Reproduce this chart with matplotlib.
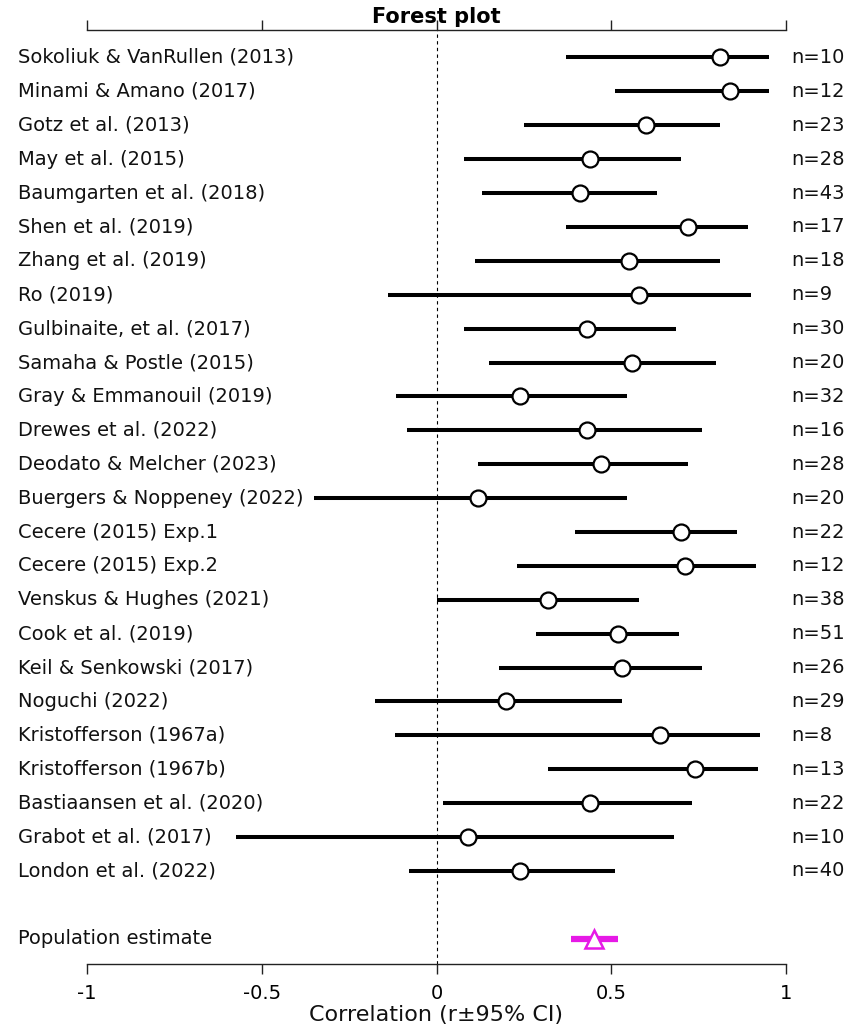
import numpy as np
import matplotlib
matplotlib.use("Agg")
import matplotlib.pyplot as plt
from matplotlib.transforms import blended_transform_factory

# study-level correlations with 95% CIs
studies = ["Sokoliuk & VanRullen (2013)", "Minami & Amano (2017)", "Gotz et al. (2013)",
           "May et al. (2015)", "Baumgarten et al. (2018)", "Shen et al. (2019)",
           "Zhang et al. (2019)", "Ro (2019)", "Gulbinaite, et al. (2017)",
           "Samaha & Postle (2015)", "Gray & Emmanouil (2019)", "Drewes et al. (2022)",
           "Deodato & Melcher (2023)", "Buergers & Noppeney (2022)", "Cecere (2015) Exp.1",
           "Cecere (2015) Exp.2", "Venskus & Hughes (2021)", "Cook et al. (2019)",
           "Keil & Senkowski (2017)", "Noguchi (2022)", "Kristofferson (1967a)",
           "Kristofferson (1967b)", "Bastiaansen et al. (2020)", "Grabot et al. (2017)",
           "London et al. (2022)"]
r = [0.81, 0.84, 0.60, 0.44, 0.41, 0.72, 0.55, 0.58, 0.43, 0.56, 0.24, 0.43, 0.47,
     0.12, 0.70, 0.71, 0.32, 0.52, 0.53, 0.20, 0.64, 0.74, 0.44, 0.09, 0.24]
ci_lo = [0.37, 0.51, 0.25, 0.08, 0.13, 0.37, 0.11, -0.14, 0.08, 0.15, -0.115, -0.085,
         0.12, -0.35, 0.395, 0.23, 0.00, 0.285, 0.18, -0.175, -0.12, 0.32, 0.02, -0.575, -0.08]
ci_hi = [0.95, 0.95, 0.81, 0.70, 0.63, 0.89, 0.81, 0.90, 0.685, 0.80, 0.545, 0.76,
         0.72, 0.545, 0.86, 0.915, 0.58, 0.695, 0.76, 0.53, 0.925, 0.92, 0.73, 0.68, 0.51]
n = [10, 12, 23, 28, 43, 17, 18, 9, 30, 20, 32, 16, 28, 20, 22, 12, 38, 51, 26, 29,
     8, 13, 22, 10, 40]

# pooled estimate
pop_r = 0.45
pop_lo = 0.385
pop_hi = 0.52

xticks = [-1, -0.5, 0, 0.5, 1]
xtick_labels = ["-1", "-0.5", "0", "0.5", "1"]

W, H = 850, 1029
fig = plt.figure(figsize=(W / 100, H / 100), dpi=100)
ax = fig.add_axes([87 / W, 1 - 963.5 / H, 699 / W, (963.5 - 30) / H])

rows = np.arange(len(studies))
pop_row = len(studies) + 1

ax.axvline(0, color="black", lw=0.8, ls=(0, (3, 3)), zorder=1)
ax.hlines(rows, ci_lo, ci_hi, color="black", lw=2.9, capstyle="butt", zorder=2)
ax.plot(r, rows, "o", ms=11.5, mfc="white", mec="black", mew=1.6, zorder=3)

ax.hlines(pop_row, pop_lo, pop_hi, color="#e619e6", lw=4.5, capstyle="butt", zorder=2)
ax.plot(pop_r, pop_row, "^", ms=13, mfc="white", mec="#e619e6", mew=1.8, zorder=3)

ax.set_xlim(-1, 1)
ax.set_ylim(26.73, -0.81)
ax.set_yticks([])
for side in ["left", "right"]:
    ax.spines[side].set_visible(False)
for side in ["top", "bottom"]:
    ax.spines[side].set_linewidth(1.0)
    ax.spines[side].set_color("#222222")
ax.set_xticks(xticks)
ax.set_xticklabels(xtick_labels, fontsize=14)
ax.tick_params(axis="x", which="both", direction="out", length=7.5, width=1.0,
               color="#222222", top=True, labeltop=False, pad=7)

trans = blended_transform_factory(fig.transFigure, ax.transData)
for i, name in enumerate(studies):
    ax.text(18 / W, i, name, transform=trans, fontsize=14, va="center", ha="left",
            color="#111111", clip_on=False)
    ax.text(791 / W, i, "n=%d" % n[i], transform=trans, fontsize=14, va="center",
            ha="left", color="#111111", clip_on=False)
ax.text(18 / W, pop_row, "Population estimate", transform=trans, fontsize=14,
        va="center", ha="left", color="#111111", clip_on=False)

fig.text(436 / W, 1 - 17 / H, "Forest plot", fontsize=15, fontweight="bold",
         ha="center", va="center")
fig.text(436 / W, 1 - 1015 / H, "Correlation (r\u00b195% CI)", fontsize=16,
         ha="center", va="center", color="#111111")

fig.savefig("out.png", dpi=100, facecolor="white")
